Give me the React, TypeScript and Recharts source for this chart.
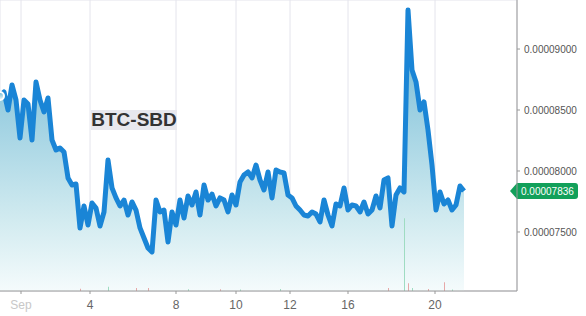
import { Area, Bar, CartesianGrid, Cell, ComposedChart, Line, ReferenceLine, XAxis, YAxis } from "recharts";

// BTC-SBD price in satoshi, one point per bar
const PRICE_SAT = [
  8615, 8648, 8500, 8705, 8582, 8271, 8582, 8549, 8254, 8730,
  8582, 8484, 8599, 8254, 8172, 8189, 8156, 7943, 7885, 7893,
  7533, 7713, 7557, 7738, 7697, 7549, 7664, 8090, 7861, 7779,
  7713, 7762, 7639, 7746, 7680, 7533, 7451, 7369, 7336, 7762,
  7664, 7680, 7418, 7664, 7557, 7762, 7615, 7795, 7721, 7828,
  7639, 7885, 7762, 7811, 7713, 7779, 7762, 7664, 7803, 7721,
  7910, 7967, 7992, 7943, 8049, 7926, 7844, 7992, 7779, 8008,
  7992, 7984, 7803, 7779, 7713, 7680, 7639, 7631, 7664, 7647,
  7582, 7762, 7639, 7549, 7729, 7713, 7861, 7680, 7721, 7713,
  7664, 7746, 7647, 7680, 7795, 7697, 7926, 7943, 7549, 7803,
  7861, 7828, 9320, 8828, 8730, 8500, 8566, 8336, 8049, 7680,
  7828, 7729, 7762, 7680, 7721, 7877, 7836,
];

// sparse volume bars: bar index, size, up (green) / down (red)
const VOL_IDX = [20, 27, 34, 37, 47, 55, 60, 70, 97, 101, 102, 103, 107, 111, 113];
const VOL_VAL = [0.8, 1.5, 1.0, 1.0, 0.6, 0.6, 0.5, 0.7, 1.0, 25, 2.7, 1.0, 0.7, 3.0, 0.5];
const VOL_UP = [false, true, false, false, true, false, true, true, false, true, false, true, false, false, true];

const DATE_TICKS = [5.25, 22.5, 44, 59, 72.5, 87, 108.75];
const DATE_LABELS = ["Sep", "4", "8", "10", "12", "16", "20"];
const PRICE_TICKS = [7500, 8000, 8500, 9000];

const FONT = "'Liberation Sans', Arial, sans-serif";
const LINE = "#1a85d6";
const TAG = "#12a05a";

const fmt = (v: number) => (v / 1e8).toFixed(8);

const data = PRICE_SAT.map((p, i) => {
  const k = VOL_IDX.indexOf(i);
  return { i, price: p, vol: k >= 0 ? VOL_VAL[k] : 0, up: k >= 0 ? VOL_UP[k] : true };
});

function DateTick({ x, y, payload }: any) {
  const k = DATE_TICKS.indexOf(payload.value);
  const label = DATE_LABELS[k] ?? "";
  return (
    <text x={x} y={y} dy={13} textAnchor="middle" fontSize={12} fontFamily={FONT} fill={label === "Sep" ? "#c8c8c8" : "#666"}>
      {label}
    </text>
  );
}

function PriceTag({ viewBox }: any) {
  const right = viewBox.x + viewBox.width;
  const y = viewBox.y;
  const tip = right - 7;
  const w = 61;
  return (
    <g>
      <path
        d={`M${tip},${y} L${right},${y - 8} L${right + w - 3},${y - 8} Q${right + w},${y - 8} ${right + w},${y - 5} L${right + w},${y + 5} Q${right + w},${y + 8} ${right + w - 3},${y + 8} L${right},${y + 8} Z`}
        fill={TAG}
      />
      <text x={right + 4} y={y} dy="0.36em" fontSize={10} fontFamily={FONT} fill="#fff">
        {fmt(PRICE_SAT[PRICE_SAT.length - 1])}
      </text>
    </g>
  );
}

export default function App() {
  return (
    <div style={{ position: "fixed", left: 0, top: 0, width: 586, height: 316, background: "#fff" }}>
      <ComposedChart width={586} height={316} data={data} margin={{ top: 0, right: 0, bottom: 0, left: 0 }}>
        <defs>
          <linearGradient id="btcFill" x1="0" y1="0" x2="0" y2="1">
            <stop offset="0%" stopColor="#5fb0d0" />
            <stop offset="30%" stopColor="#93cbdf" />
            <stop offset="75%" stopColor="#d2ebf0" />
            <stop offset="100%" stopColor="#f5fbfc" />
          </linearGradient>
        </defs>
        <CartesianGrid stroke="#e4e4ec" />
        <XAxis
          dataKey="i"
          type="number"
          domain={[0, 129.25]}
          ticks={DATE_TICKS}
          tick={<DateTick />}
          tickSize={3}
          height={25}
          axisLine={{ stroke: "#999" }}
          tickLine={{ stroke: "#999" }}
          interval={0}
        />
        <YAxis
          yAxisId="price"
          orientation="right"
          width={69}
          domain={[7016, 9402]}
          ticks={PRICE_TICKS}
          tickFormatter={fmt}
          tick={{ fontSize: 10, fill: "#555", fontFamily: FONT }}
          tickSize={3}
          tickMargin={4}
          axisLine={{ stroke: "#999" }}
          tickLine={{ stroke: "#999" }}
          allowDataOverflow
        />
        <YAxis yAxisId="vol" hide domain={[0, 100]} />
        <Area
          yAxisId="price"
          dataKey="price"
          type="linear"
          stroke="none"
          fill="url(#btcFill)"
          fillOpacity={1}
          isAnimationActive={false}
        />
        <Bar yAxisId="vol" dataKey="vol" barSize={1} isAnimationActive={false}>
          {data.map((d) => (
            <Cell key={d.i} fill={d.up ? "#9fdcc2" : "#e6a8a8"} />
          ))}
        </Bar>
        <Line
          yAxisId="price"
          dataKey="price"
          type="linear"
          stroke={LINE}
          strokeWidth={5}
          strokeLinejoin="round"
          dot={false}
          activeDot={false}
          isAnimationActive={false}
        />
        <ReferenceLine yAxisId="price" y={PRICE_SAT[PRICE_SAT.length - 1]} stroke="none" label={(p: any) => <PriceTag {...p} />} />
      </ComposedChart>
      <div
        style={{
          position: "absolute",
          left: 91,
          top: 110,
          width: 86,
          height: 20,
          background: "#e8e8ee",
          color: "#333",
          fontFamily: FONT,
          fontWeight: 700,
          fontSize: 19,
          lineHeight: "20px",
          textAlign: "center",
          whiteSpace: "nowrap",
        }}
      >
        BTC-SBD
      </div>
    </div>
  );
}
